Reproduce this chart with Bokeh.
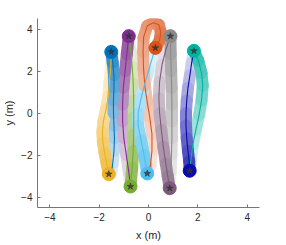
from bokeh.plotting import figure
from bokeh.models import Range1d, FixedTicker
from bokeh.embed import file_html
from bokeh.resources import INLINE

# ---- data: one path per agent (start -> final position) ----
blue_x = [-1.50, -1.45, -1.40, -1.38, -1.40, -1.42, -1.42, -1.40, -1.40, -1.45, -1.51]
blue_y = [-2.85, -2.40, -1.80, -1.20, -0.60, 0.00, 0.60, 1.20, 1.80, 2.40, 2.91]

yellow_x = [-1.51, -1.53, -1.58, -1.63, -1.72, -1.83, -1.87, -1.85, -1.78, -1.70, -1.61]
yellow_y = [2.91, 2.20, 1.50, 0.80, 0.20, -0.40, -0.90, -1.40, -1.90, -2.40, -2.91]

purple_x = [-0.73, -0.80, -0.90, -1.00, -1.05, -1.05, -1.02, -0.95, -0.88, -0.80]
purple_y = [-3.50, -2.80, -2.00, -1.20, -0.40, 0.40, 1.20, 2.00, 2.80, 3.66]

green_x = [-0.80, -0.72, -0.66, -0.62, -0.60, -0.60, -0.60, -0.62, -0.66, -0.73]
green_y = [3.66, 3.00, 2.20, 1.40, 0.60, -0.20, -1.00, -1.80, -2.60, -3.50]

orange_x = [-0.05, 0.08, 0.14, 0.14, 0.05, -0.05, -0.15, -0.20, -0.22, -0.20, -0.05, 0.20, 0.42, 0.50, 0.45, 0.28]
orange_y = [-2.88, -2.50, -1.80, -1.00, -0.20, 0.50, 1.30, 2.10, 2.90, 3.60, 4.15, 4.30, 4.20, 3.85, 3.45, 3.10]

lightblue_x = [0.28, 0.15, 0.00, -0.15, -0.30, -0.42, -0.42, -0.30, -0.18, -0.05]
lightblue_y = [3.10, 2.60, 2.00, 1.40, 0.70, 0.00, -0.60, -1.30, -2.00, -2.88]

gray_x = [0.86, 0.90, 0.93, 0.95, 0.95, 0.95, 0.94, 0.92, 0.90, 0.89]
gray_y = [-3.58, -2.80, -2.00, -1.20, -0.40, 0.40, 1.20, 2.00, 2.80, 3.66]

mauve_x = [0.89, 0.70, 0.55, 0.45, 0.42, 0.45, 0.52, 0.60, 0.70, 0.78, 0.86]
mauve_y = [3.66, 3.00, 2.30, 1.50, 0.70, 0.00, -0.80, -1.60, -2.40, -3.00, -3.58]

teal_x = [1.67, 1.72, 1.80, 1.92, 2.05, 2.15, 2.20, 2.15, 2.02, 1.84]
teal_y = [-2.75, -2.20, -1.50, -0.80, -0.10, 0.60, 1.30, 1.90, 2.50, 2.96]

darkblue_x = [1.84, 1.75, 1.68, 1.60, 1.55, 1.52, 1.52, 1.55, 1.60, 1.65, 1.67]
darkblue_y = [2.96, 2.40, 1.80, 1.20, 0.60, 0.00, -0.60, -1.20, -1.80, -2.30, -2.75]

agents = [
    ("#0072BD", blue_x, blue_y),
    ("#EDB120", yellow_x, yellow_y),
    ("#7E2F8E", purple_x, purple_y),
    ("#77AC30", green_x, green_y),
    ("#D95319", orange_x, orange_y),
    ("#4DBEEE", lightblue_x, lightblue_y),
    ("#8A8A8A", gray_x, gray_y),
    ("#7D5A7B", mauve_x, mauve_y),
    ("#00B2A0", teal_x, teal_y),
    ("#0A0AAA", darkblue_x, darkblue_y),
]

ticks = [-4, -2, 0, 2, 4]


def mix(hexcol, a):
    r, g, b = (int(hexcol[i:i + 2], 16) for i in (1, 3, 5))
    r = round(255 * (1 - a) + r * a)
    g = round(255 * (1 - a) + g * a)
    b = round(255 * (1 - a) + b * a)
    return "#%02x%02x%02x" % (r, g, b)


p = figure(width=270, height=245, output_backend="svg", toolbar_location=None,
           x_range=Range1d(-4.5, 4.5), y_range=Range1d(-4.5, 4.5),
           min_border_left=37, min_border_right=11, min_border_top=18, min_border_bottom=38)
p.outline_line_color = None
p.grid.visible = False
p.background_fill_color = "white"

# trails: thick segments fading from start to end, sorted so faint parts lie underneath
segs = []
for col, xs, ys in agents:
    n = len(xs)
    for i in range(n - 1):
        t = (i + 0.5) / (n - 1)
        a = 0.10 + 0.72 * t
        segs.append((a, [xs[i], xs[i + 1]], [ys[i], ys[i + 1]], mix(col, a)))
segs.sort(key=lambda s: s[0])
p.multi_line(xs=[s[1] for s in segs], ys=[s[2] for s in segs],
             line_color=[s[3] for s in segs], line_width=12, line_cap="round", line_join="round")

# thin paths
for col, xs, ys in agents:
    p.line(xs, ys, line_color=col, line_width=1.1)

# final positions
fx = [a[1][-1] for a in agents]
fy = [a[2][-1] for a in agents]
fc = [a[0] for a in agents]
p.scatter(fx, fy, marker="circle", size=13, fill_color=fc, line_color=fc)
p.scatter(fx, fy, marker="star", size=7, fill_color="#333333", fill_alpha=0.8, line_color="#333333", line_alpha=0.6)

for ax in (p.xaxis[0], p.yaxis[0]):
    ax.ticker = FixedTicker(ticks=ticks)
    ax.axis_line_color = "#777777"
    ax.major_tick_line_color = "#777777"
    ax.major_tick_in = 3
    ax.major_tick_out = 0
    ax.minor_tick_line_color = None
    ax.major_label_text_font = "Liberation Sans"
    ax.major_label_text_font_size = "10px"
    ax.major_label_text_color = "#262626"
    ax.axis_label_text_font = "Liberation Sans"
    ax.axis_label_text_font_size = "11px"
    ax.axis_label_text_font_style = "normal"
    ax.axis_label_text_color = "#262626"

p.xaxis[0].axis_label = "x (m)"
p.yaxis[0].axis_label = "y (m)"
p.xaxis[0].major_label_standoff = 5
p.xaxis[0].axis_label_standoff = 5
p.yaxis[0].major_label_standoff = 5
p.yaxis[0].axis_label_standoff = 3

open("out.html", "w").write(file_html(p, INLINE))
